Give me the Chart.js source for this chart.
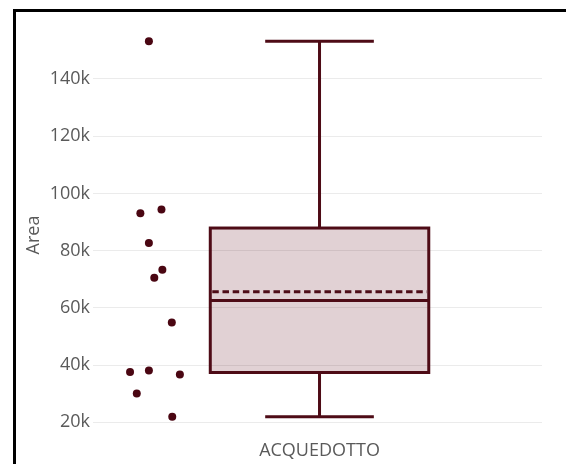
<!DOCTYPE html>
<html>
<head>
<meta charset="utf-8">
<script src="https://cdn.jsdelivr.net/npm/chart.js@4/dist/chart.umd.min.js"></script>
<style>
  html, body { margin: 0; padding: 0; background: #fff; overflow: hidden; }
  #wrap { position: relative; width: 566px; height: 464px; }
  #frame { position: absolute; left: 13px; top: 9px; width: 700px; height: 700px; border: 3px solid #000; box-sizing: border-box; }
  canvas { position: absolute; left: 0; top: 0; }
</style>
</head>
<body>
<div id="wrap">
  <div id="frame"></div>
  <canvas id="c" width="566" height="464"></canvas>
</div>
<script>
// ---- data ----
const categories = ['ACQUEDOTTO'];
const areaValues = [153200, 93100, 94400, 82700, 73300, 70500, 54900, 37600, 38100, 36700, 30100, 21900];
const jitterOffsets = [-0.380, -0.399, -0.352, -0.380, -0.350, -0.368, -0.329, -0.422, -0.380, -0.311, -0.407, -0.328];
const whiskerLow = [21900];
const q1Values = [37400];
const medianValues = [62600];
const meanValues = [65600];
const q3Values = [87900];
const whiskerHigh = [153200];
const yTicks = [20000, 40000, 60000, 80000, 100000, 120000, 140000];
const yTitle = 'Area';

const LINE = '#4e0b16';
const FILL = 'rgba(94, 13, 26, 0.19)';
const FONT = { family: "'Open Sans', sans-serif", size: 18 };
const TEXT = '#5a5a5a';

const points = areaValues.map((v, i) => ({ x: 0 + jitterOffsets[i], y: v }));

const boxPlugin = {
  id: 'boxPlot',
  beforeDatasetsDraw(chart) {
    const { ctx, scales: { x, y } } = chart;
    const halfBox = 0.2433, halfCap = 0.121;
    categories.forEach((cat, i) => {
      const xl = x.getPixelForValue(i - halfBox);
      const xr = x.getPixelForValue(i + halfBox);
      const xc = x.getPixelForValue(i);
      const cl = x.getPixelForValue(i - halfCap);
      const cr = x.getPixelForValue(i + halfCap);
      const yq1 = y.getPixelForValue(q1Values[i]);
      const yq3 = y.getPixelForValue(q3Values[i]);
      const ymed = y.getPixelForValue(medianValues[i]);
      const ymean = y.getPixelForValue(meanValues[i]);
      const ylo = y.getPixelForValue(whiskerLow[i]);
      const yhi = y.getPixelForValue(whiskerHigh[i]);
      ctx.save();
      ctx.lineWidth = 3;
      ctx.strokeStyle = LINE;
      ctx.fillStyle = FILL;
      ctx.fillRect(xl, yq3, xr - xl, yq1 - yq3);
      ctx.strokeRect(xl, yq3, xr - xl, yq1 - yq3);
      ctx.beginPath();
      ctx.moveTo(xc, yq3); ctx.lineTo(xc, yhi);
      ctx.moveTo(cl, yhi); ctx.lineTo(cr, yhi);
      ctx.moveTo(xc, yq1); ctx.lineTo(xc, ylo);
      ctx.moveTo(cl, ylo); ctx.lineTo(cr, ylo);
      ctx.moveTo(xl, ymed); ctx.lineTo(xr, ymed);
      ctx.stroke();
      ctx.beginPath();
      ctx.setLineDash([6.5, 3.7]);
      ctx.moveTo(xl + 2, ymean); ctx.lineTo(xr - 2, ymean);
      ctx.stroke();
      ctx.restore();
    });
  }
};

new Chart(document.getElementById('c'), {
  type: 'scatter',
  data: {
    datasets: [{
      label: categories[0],
      data: points,
      backgroundColor: '#4a0612',
      borderColor: '#4a0612',
      pointRadius: 4,
      pointHoverRadius: 4,
      borderWidth: 0,
      clip: false
    }]
  },
  plugins: [boxPlugin],
  options: {
    responsive: false,
    animation: false,
    events: [],
    layout: { padding: { left: 14, right: 24, top: 36, bottom: 0 } },
    plugins: { legend: { display: false }, tooltip: { enabled: false } },
    scales: {
      x: {
        type: 'linear',
        min: -0.5045,
        max: 0.4955,
        grid: { display: false, drawTicks: false },
        border: { display: false },
        afterBuildTicks(scale) { scale.ticks = categories.map((c, i) => ({ value: i })); },
        afterFit(scale) { scale.height = 30; },
        ticks: {
          padding: 6,
          font: FONT,
          color: TEXT,
          callback: (v) => categories[Math.round(v)]
        }
      },
      y: {
        type: 'linear',
        min: 15900,
        max: 155030,
        grid: { color: '#ebebeb', lineWidth: 1, drawTicks: false },
        border: { display: false },
        afterBuildTicks(scale) { scale.ticks = yTicks.map(v => ({ value: v })); },
        afterFit(scale) { scale.width = 79; },
        title: { display: true, text: yTitle, font: FONT, color: TEXT, padding: { top: 9, bottom: 0 } },
        ticks: {
          padding: 3,
          font: FONT,
          color: TEXT,
          callback: (v) => (v / 1000) + 'k'
        }
      }
    }
  }
});
</script>
</body>
</html>
